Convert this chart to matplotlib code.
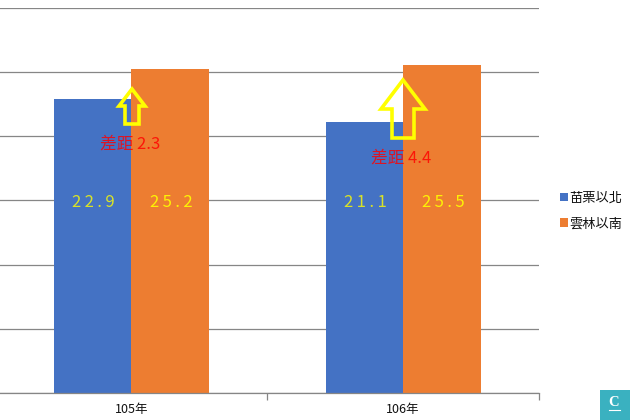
import matplotlib
matplotlib.use('Agg')
import matplotlib.pyplot as plt
import numpy as np
from matplotlib.patches import Polygon, Rectangle
from matplotlib.transforms import Affine2D

plt.rcParams['font.family'] = ['Noto Sans CJK TC', 'DejaVu Sans']

years = ['105年', '106年']
north = [22.9, 21.1]
south = [25.2, 25.5]
north_name = '苗栗以北'
south_name = '雲林以南'
north_labels = ['2\u20092\u2009.\u20099', '2\u20091\u2009.\u20091']
south_labels = ['2\u20095\u2009.\u20092', '2\u20095\u2009.\u20095']
gap_labels = ['差距 2.3', '差距 4.4']
# arrows: tip x, tip y, head base y, tail y, head half width, shaft half width (pixels)
arrows = [(132, 89, 106, 124, 13, 7), (403, 80, 109, 138, 22, 11)]

W, H = 630, 420
fig = plt.figure(figsize=(W / 100, H / 100), dpi=100, facecolor='white')
# pixels from top left of the picture
px = Affine2D().scale(1 / W, -1 / H).translate(0, 1) + fig.transFigure

ax = fig.add_axes([-4.5 / W, (H - 393) / H, 543.5 / W, 385.4 / H])
x = np.array([0.5, 1.5])
w = 0.285
ax.bar(x - w / 2, north, w, color='#4472C4', label=north_name, zorder=2)
ax.bar(x + w / 2, south, w, color='#ED7D31', label=south_name, zorder=2)

ax.set_xlim(0, 2)
ax.set_ylim(0, 30)
ax.set_yticks(range(0, 31, 5))
ax.yaxis.grid(True, color='#868686', linewidth=0.9, zorder=1)
ax.set_axisbelow(True)
ax.tick_params(axis='y', length=0, labelleft=False)
ax.set_xticks([0, 1, 2])
ax.set_xticklabels([])
ax.set_xticks(x, minor=True)
ax.set_xticklabels(years, minor=True, fontsize=9, color='#111111')
ax.tick_params(axis='x', which='major', length=5, color='#868686', width=0.9)
ax.tick_params(axis='x', which='minor', length=0, pad=7)
for s in ['top', 'left', 'right']:
    ax.spines[s].set_visible(False)
ax.spines['bottom'].set_color('#868686')
ax.spines['bottom'].set_linewidth(0.9)

for i in range(len(years)):
    ax.text(x[i] - w / 2 + 0.004, 14.8, north_labels[i], ha='center', va='center', color='#FFFF00', alpha=0.8, fontsize=12, zorder=5)
    ax.text(x[i] + w / 2 + 0.004, 14.8, south_labels[i], ha='center', va='center', color='#FFFF00', alpha=0.9, fontsize=12, zorder=5)

for (tx, ty, by, ey, hw, sw), lab in zip(arrows, gap_labels):
    pts = [(tx, ty), (tx + hw, by), (tx + sw, by), (tx + sw, ey), (tx - sw, ey), (tx - sw, by), (tx - hw, by)]
    fig.add_artist(Polygon(pts, closed=True, fill=False, edgecolor='#FFFF00', linewidth=2.6, joinstyle='miter', transform=px, zorder=6))
    fig.text(tx - 2, ey + 20.5, lab, transform=px, ha='center', va='center', color='#FF0000', alpha=0.82, fontsize=12, zorder=7)

ax.legend(loc='center left', bbox_to_anchor=(564.5 / 543.5, (393 - 211) / 385.4), frameon=False, fontsize=9.5, handlelength=0.6, handleheight=0.6,
          handletextpad=0.1, labelspacing=0.95, borderpad=0, borderaxespad=0, labelcolor='#111111')

# logo in the corner
fig.add_artist(Rectangle((600, 390), 30, 30, facecolor='#3AB1C0', edgecolor='none', transform=px))
fig.text(614, 402, 'C', transform=px, ha='center', va='center', color='white', fontsize=10.5, family='Liberation Serif', fontweight='bold')
fig.add_artist(plt.Line2D([609, 620], [410, 410], color='white', linewidth=0.8, transform=px))

fig.savefig('out.png', dpi=100)
